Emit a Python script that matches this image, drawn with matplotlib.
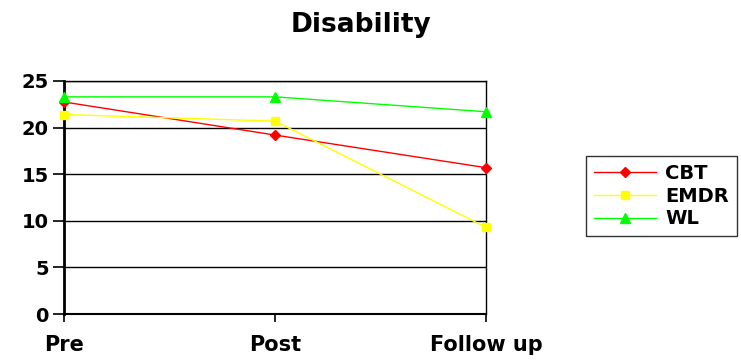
import numpy as np
import matplotlib.pyplot as plt

# time points and mean disability scores per group
phases = ["Pre", "Post", "Follow up"]
cbt = [22.75, 19.2, 15.7]
emdr = [21.4, 20.7, 9.3]
wl = [23.3, 23.3, 21.7]
y_ticks = [0, 5, 10, 15, 20, 25]

plt.rcParams['font.family'] = ['DejaVu Sans']
plt.rcParams['font.weight'] = 'bold'

fig = plt.figure(figsize=(7.41, 3.6), dpi=100)
ax = fig.add_axes([64 / 741, 46 / 360, 422 / 741, 233 / 360])

x = np.arange(len(phases))
ax.plot(x, cbt, color='#ff0000', lw=1.0, marker='D', ms=5, label='CBT',
        zorder=3, clip_on=False)
ax.plot(x, emdr, color='#ffff00', lw=1.0, marker='s', ms=6, label='EMDR',
        zorder=3, clip_on=False)
ax.plot(x, wl, color='#00ff00', lw=1.0, marker='^', ms=7, label='WL',
        zorder=3, clip_on=False)

ax.set_xlim(0, len(phases) - 1)
ax.set_ylim(0, 25)
ax.set_yticks(y_ticks)
ax.set_xticks(x)
ax.set_xticklabels(phases)
for v in y_ticks[1:]:
    ax.axhline(v, color='black', lw=1.0, zorder=1)

for s in ['top', 'right']:
    ax.spines[s].set_linewidth(1.0)
ax.spines['left'].set_linewidth(2.0)
ax.spines['bottom'].set_linewidth(1.5)

ax.tick_params(axis='y', length=8, width=1.2, pad=3, labelsize=14)
ax.tick_params(axis='x', length=6, width=1.2, pad=9, labelsize=15)
for lab in ax.get_xticklabels() + ax.get_yticklabels():
    lab.set_fontweight('bold')

fig.text(0.487, 0.93, "Disability", ha='center', va='center',
         fontsize=19, fontweight='bold')

leg = ax.legend(loc='center left', bbox_to_anchor=(576 / 741, 164 / 360),
                bbox_transform=fig.transFigure, fancybox=False, frameon=True,
                edgecolor='black', fontsize=14, handlelength=3.2,
                borderpad=0.4, labelspacing=0.2, handletextpad=0.5)
leg.get_frame().set_linewidth(1.0)
for t in leg.get_texts():
    t.set_fontweight('bold')

fig.savefig("out.png", dpi=100)
